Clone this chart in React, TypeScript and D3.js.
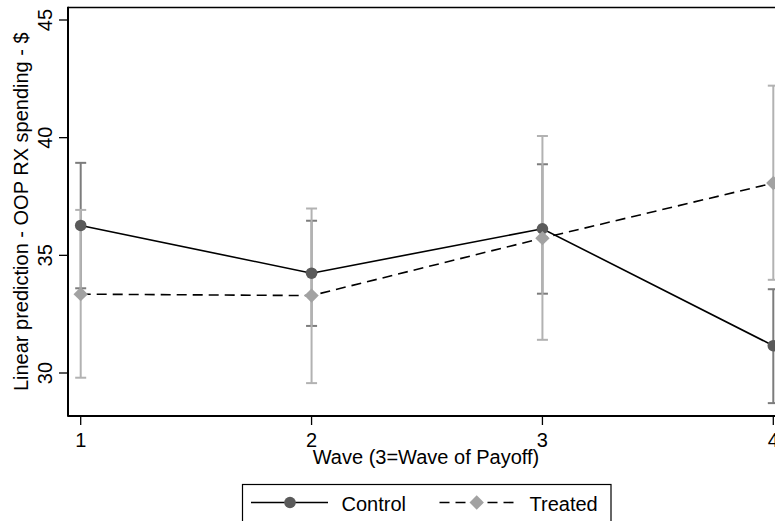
import React from "react";
import * as d3 from "d3";

const waves = [1, 2, 3, 4];
const xTickLabels = ["1", "2", "3", "4"];
const yTicks = [30, 35, 40, 45];

const controlMean = [36.27, 34.24, 36.13, 31.16];
const controlLower = [33.6, 32.0, 33.37, 28.72];
const controlUpper = [38.93, 36.47, 38.87, 33.56];

const treatedMean = [33.35, 33.29, 35.73, 38.07];
const treatedLower = [29.8, 29.57, 31.41, 33.96];
const treatedUpper = [36.93, 36.99, 40.07, 42.21];

const seriesNames = ["Control", "Treated"];

const W = 775;
const H = 521;
const FONT = "'Liberation Sans', Arial, Helvetica, sans-serif";

export default function App() {
  const x = d3.scaleLinear().domain([1, 4]).range([80.7, 773.3]);
  const y = d3.scaleLinear().domain([30, 45]).range([373, 20]);

  const axisLeft = 68;
  const axisBottom = 416;
  const plotTop = 7.5;

  const line = d3
    .line<number>()
    .x((_, i) => x(waves[i]))
    .y((d) => y(d));

  const capW = 5.5;
  const ciColorC = "#7c7c7c";
  const ciColorT = "#b2b2b2";
  const markC = "#5a5a5a";
  const markT = "#a2a2a2";

  const diamond = (cx: number, cy: number, r: number) =>
    `M${cx},${cy - r}L${cx + r},${cy}L${cx},${cy + r}L${cx - r},${cy}Z`;

  const renderCI = (lo: number[], hi: number[], color: string, key: string) =>
    waves.map((w, i) => {
      const cx = x(w);
      return (
        <g key={key + i} stroke={color} strokeWidth={2} fill="none">
          <line x1={cx} x2={cx} y1={y(lo[i])} y2={y(hi[i])} />
          <line x1={cx - capW} x2={cx + capW} y1={y(lo[i])} y2={y(lo[i])} />
          <line x1={cx - capW} x2={cx + capW} y1={y(hi[i])} y2={y(hi[i])} />
        </g>
      );
    });

  return (
    <svg
      width={W}
      height={H}
      style={{ position: "absolute", left: 0, top: 0, background: "#fff" }}
      fontFamily={FONT}
    >
      <rect x={0} y={0} width={W} height={H} fill="#fff" />
      {/* CIs */}
      {renderCI(controlLower, controlUpper, ciColorC, "c")}
      {renderCI(treatedLower, treatedUpper, ciColorT, "t")}
      {/* lines */}
      <path d={line(controlMean) || ""} fill="none" stroke="#000" strokeWidth={1.6} />
      <path
        d={line(treatedMean) || ""}
        fill="none"
        stroke="#000"
        strokeWidth={1.6}
        strokeDasharray="10,6"
      />
      {/* markers */}
      {controlMean.map((v, i) => (
        <circle key={"cm" + i} cx={x(waves[i])} cy={y(v)} r={5.8} fill={markC} />
      ))}
      {treatedMean.map((v, i) => (
        <path key={"tm" + i} d={diamond(x(waves[i]), y(v), 7.2)} fill={markT} />
      ))}

      {/* plot border top */}
      <line x1={axisLeft} x2={W} y1={plotTop} y2={plotTop} stroke="#000" strokeWidth={1.6} />
      {/* axes */}
      <line x1={axisLeft} x2={axisLeft} y1={plotTop - 0.8} y2={axisBottom + 0.8} stroke="#000" strokeWidth={2} />
      <line x1={axisLeft} x2={W} y1={axisBottom} y2={axisBottom} stroke="#000" strokeWidth={2} />

      {/* y ticks */}
      {yTicks.map((t) => (
        <g key={"yt" + t}>
          <line x1={axisLeft - 9} x2={axisLeft} y1={y(t)} y2={y(t)} stroke="#000" strokeWidth={1.3} />
          <text
            transform={`translate(52,${y(t)}) rotate(-90)`}
            textAnchor="middle"
            fontSize={20}
            fill="#000"
          >
            {t}
          </text>
        </g>
      ))}
      {/* x ticks */}
      {waves.map((w, i) => (
        <g key={"xt" + w}>
          <line x1={x(w)} x2={x(w)} y1={axisBottom} y2={axisBottom + 9} stroke="#000" strokeWidth={1.3} />
          <text x={x(w)} y={447} textAnchor="middle" fontSize={20} fill="#000">
            {xTickLabels[i]}
          </text>
        </g>
      ))}

      {/* axis titles */}
      <text x={426} y={464} textAnchor="middle" fontSize={20} fill="#000">
        Wave (3=Wave of Payoff)
      </text>
      <text
        transform={`translate(28,${(plotTop + axisBottom) / 2}) rotate(-90)`}
        textAnchor="middle"
        fontSize={20}
        fill="#000"
      >
        Linear prediction - OOP RX spending - $
      </text>

      {/* legend */}
      <rect x={242.5} y={484.5} width={368.5} height={60} fill="#fff" stroke="#000" strokeWidth={1.2} />
      <line x1={251} x2={328} y1={502.5} y2={502.5} stroke="#000" strokeWidth={1.6} />
      <circle cx={290} cy={502.5} r={5.8} fill={markC} />
      <text x={341.5} y={511} fontSize={20} fill="#000">
        {seriesNames[0]}
      </text>
      <line
        x1={439.5}
        x2={514}
        y1={502.5}
        y2={502.5}
        stroke="#000"
        strokeWidth={1.6}
        strokeDasharray="10,6"
      />
      <path d={diamond(476.7, 502.5, 7.2)} fill={markT} />
      <text x={529.5} y={511} fontSize={20} fill="#000">
        {seriesNames[1]}
      </text>
    </svg>
  );
}
